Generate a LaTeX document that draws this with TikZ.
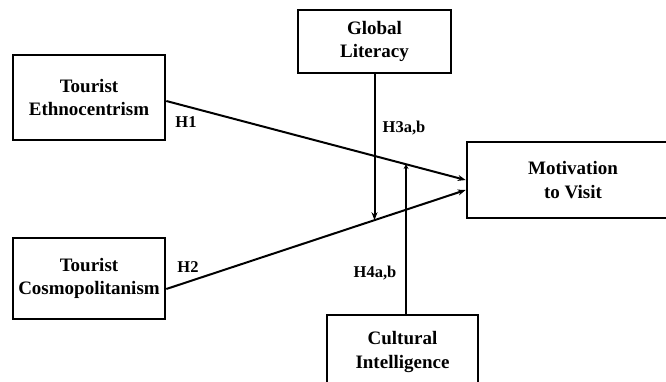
\documentclass[tikz,border=0pt]{standalone}
\usepackage{fontspec}
\setmainfont{Liberation Serif}
\usetikzlibrary{arrows.meta,calc}
\begin{document}
\begin{tikzpicture}[x=1pt,y=-1pt,
  box/.style={draw, line width=2.6pt, align=center, inner sep=0pt,
    font=\fontsize{19}{23.5}\selectfont\bfseries},
  lbl/.style={font=\fontsize{16.5}{19}\selectfont\bfseries, inner sep=0pt},
  conn/.style={line width=2pt},
  arr/.style={conn, -{Stealth[length=8pt,width=6pt]}},
  sarr/.style={conn, -{Stealth[length=5pt,width=5pt]}}]
\clip (0,0) rectangle (666,382);
\node[box, minimum width=152pt, minimum height=85pt] (te) at (89,97.5) {Tourist\\Ethnocentrism};
\node[box, minimum width=153pt, minimum height=63pt] (gl) at (374.5,41.5) {Global\\Literacy};
\node[box, minimum width=152pt, minimum height=81pt] (tc) at (89,278.5) {Tourist\\Cosmopolitanism};
\node[box, minimum width=151pt, minimum height=74pt] (ci) at (402.5,352) {Cultural\\Intelligence};
\node[box, minimum width=212pt, minimum height=76pt] (mv) at (573,180) {Motivation\\to Visit};
\coordinate (h1s) at ($(te.east)+(0,3.5)$);
\coordinate (h1e) at (mv.west);
\coordinate (h2s) at ($(tc.east)+(0,10.5)$);
\coordinate (h2e) at ($(mv.west)+(0,10)$);
\draw[arr] (h1s) -- (h1e);
\draw[arr] (h2s) -- (h2e);
\coordinate (h3p) at ($(h2s)!0.695!(h2e)$);
\coordinate (h4p) at ($(h1s)!0.798!(h1e)$);
\coordinate (ciTop) at ($(ci.north)+(3.5,0)$);
\draw[arr] (gl.south) -- (gl.south |- h3p);
\draw[sarr] (ciTop) -- (ciTop |- h4p);
\node[lbl] (l1) at (186,122) {H1};
\node[lbl] (l2) at (188,267) {H2};
\node[lbl] (l3) at (404,128) {H3a,b};
\node[lbl] (l4) at (375,273) {H4a,b};
\end{tikzpicture}
\end{document}
